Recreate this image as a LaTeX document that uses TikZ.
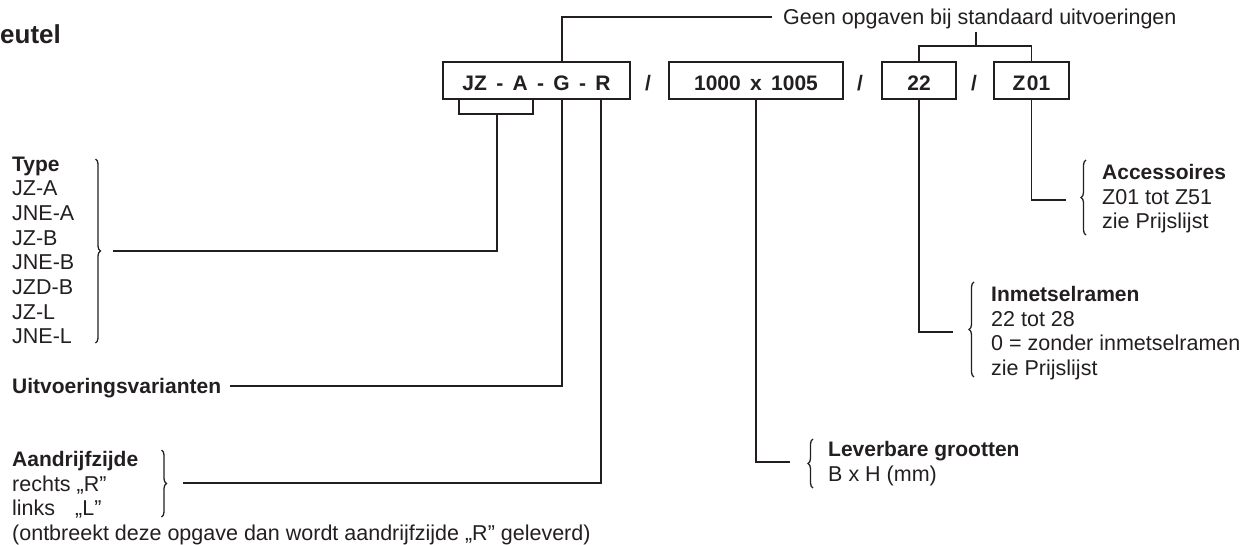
\documentclass[tikz,border=0pt]{standalone}
\usepackage{fontspec}
\setmainfont{Liberation Sans}
\newfontfamily\codefont[WordSpace=1.6]{Liberation Sans}
\usetikzlibrary{decorations.pathreplacing}
\definecolor{ink}{RGB}{35,31,32}
\begin{document}
\begin{tikzpicture}[x=1pt,y=-1pt,
  lbl/.style={anchor=base west,inner sep=0pt,text=ink,font=\fontsize{21.5}{24.7}\selectfont},
  blbl/.style={anchor=base west,inner sep=0pt,text=ink,font=\fontsize{21}{24.7}\selectfont\bfseries},
  codebox/.style={draw=ink,line width=1.2pt,inner sep=0pt,minimum height=37pt,text height=19pt,text depth=0pt,text=ink,font=\codefont\fontsize{21}{24.7}\selectfont\bfseries},
  slash/.style={anchor=base,inner sep=0pt,text=ink,font=\fontsize{21}{24.7}\selectfont\bfseries},
  conn/.style={draw=ink,line width=1.1pt},
  bracepath/.style={draw=ink,line width=1.3pt,decorate,decoration={brace,amplitude=5pt}}]
\useasboundingbox (0,0) rectangle (1255,544);

% title fragment
\node[anchor=base west,inner sep=0pt,text=ink,font=\fontsize{26}{30}\selectfont\bfseries] (title) at (0,43) {eutel};

% code boxes
\node[codebox,minimum width=187pt] (b1) at (536.5,80.5) {JZ - A - G - R};
\node[codebox,minimum width=174pt] (b2) at (756,80.5) {1000 x 1005};
\node[codebox,minimum width=74pt] (b3) at (919,80.5) {22};
\node[codebox,minimum width=75pt] (b4) at (1031.5,80.5) {Z\kern1.5pt 01};
\node[slash] (s1) at (648,90) {/};
\node[slash] (s2) at (860,90) {/};
\node[slash] (s3) at (974,90) {/};

% top label
\node[lbl] (geen) at (783,24) {Geen opgaven bij standaard uitvoeringen};
\coordinate (geenend) at (772,17);
\coordinate (geentop) at (976,32);
\coordinate (geenfork) at (976,46);
\draw[conn] ([xshift=25.5pt]b1.north) |- (geenend);
\draw[conn] (geentop) -- (geenfork);
\draw[conn] (b3.north) |- (geenfork) -| (b4.north);

% Type block
\node[blbl] (ttype) at (12,171) {Type};
\node[lbl] (t1) at (12,195.7) {JZ-A};
\node[lbl] (t2) at (12,220.4) {JNE-A};
\node[lbl] (t3) at (12,245.1) {JZ-B};
\node[lbl] (t4) at (12,269.8) {JNE-B};
\node[lbl] (t5) at (12,294.5) {JZD-B};
\node[lbl] (t6) at (12,319.2) {JZ-L};
\node[lbl] (t7) at (12,343.9) {JNE-L};
\draw[bracepath] (95.5,159) -- (95.5,343);
\coordinate (typeend) at (113,251);
\coordinate (typefork) at (497,114);
\draw[conn] ([xshift=-77.5pt]b1.south) |- (typefork) -| ([xshift=-3.5pt]b1.south);
\draw[conn] (typefork) |- (typeend);

% Uitvoeringsvarianten
\node[blbl] (uitv) at (12,393) {Uitvoeringsvarianten};
\coordinate (uitvend) at (230,386);
\draw[conn] ([xshift=25.5pt]b1.south) |- (uitvend);

% Aandrijfzijde
\node[blbl] (aandr) at (12,466.5) {Aandrijfzijde};
\node[lbl] (a1) at (12,491) {rechts „R”};
\node[lbl] (a2) at (12,515.5) {links \hspace{14pt}„L”};
\node[lbl] (a3) at (12,540) {(ontbreekt deze opgave dan wordt aandrijfzijde „R” geleverd)};
\draw[bracepath] (161.5,450) -- (161.5,517);
\coordinate (aandrend) at (183,483);
\draw[conn] ([xshift=64.5pt]b1.south) |- (aandrend);

% Leverbare grootten
\node[blbl] (lev) at (828,456.7) {Leverbare grootten};
\node[lbl] (l1) at (828,481.7) {B x H (mm)};
\draw[bracepath] (813,488) -- (813,439);
\coordinate (levend) at (790,462);
\draw[conn] (b2.south) |- (levend);

% Inmetselramen
\node[blbl] (inm) at (991,301.5) {Inmetselramen};
\node[lbl] (i1) at (991,326) {22 tot 28};
\node[lbl] (i2) at (991,350.5) {0 = zonder inmetselramen};
\node[lbl] (i3) at (991,375) {zie Prijslijst};
\draw[bracepath] (974,377) -- (974,282);
\coordinate (inmend) at (953,332);
\draw[conn] (b3.south) |- (inmend);

% Accessoires
\node[blbl] (acc) at (1102,179.5) {Accessoires};
\node[lbl] (c1) at (1102,204) {Z01 tot Z51};
\node[lbl] (c2) at (1102,228.5) {zie Prijslijst};
\draw[bracepath] (1086,235) -- (1086,160);
\coordinate (accend) at (1066,200);
\draw[conn] (b4.south) |- (accend);
\end{tikzpicture}
\end{document}
